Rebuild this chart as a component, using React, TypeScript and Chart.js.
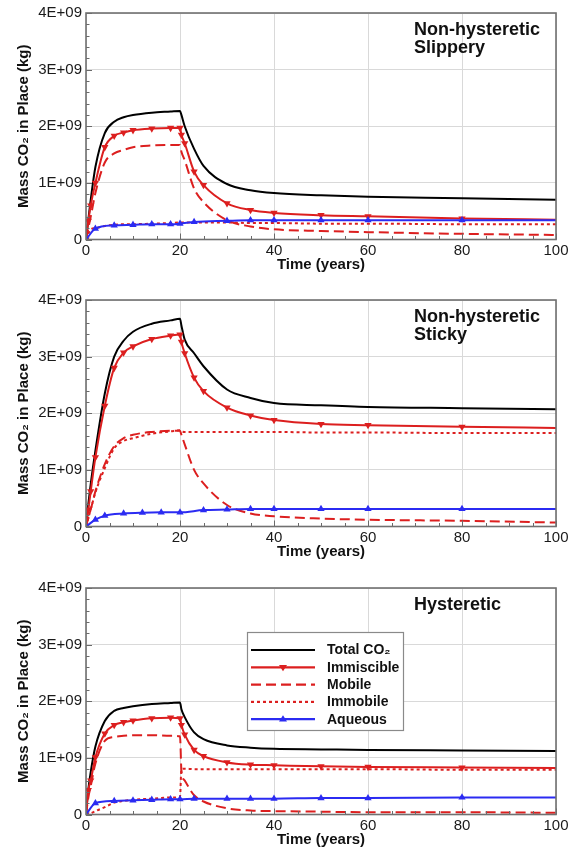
import React, { useEffect, useRef } from "react";
import { Chart, registerables } from "chart.js";

Chart.register(...registerables);

// ---------- DATA (values in units of 1E+09 kg) ----------
const T = [0, 0.5, 1, 2, 4, 6, 8, 10, 14, 18, 20, 20.3, 21, 23, 25, 30, 35, 40, 50, 60, 80, 100];

// Panel 1: Non-hysteretic, Slippery
const SLIP_TOTAL = [0, 0.35, 0.7, 1.28, 1.88, 2.08, 2.16, 2.2, 2.24, 2.26, 2.27, 2.2, 2.0, 1.6, 1.3, 0.98, 0.87, 0.82, 0.78, 0.755, 0.73, 0.7];
const SLIP_IMMISCIBLE = [0, 0.33, 0.6, 1.0, 1.63, 1.83, 1.89, 1.93, 1.96, 1.97, 1.97, 1.85, 1.7, 1.2, 0.96, 0.64, 0.52, 0.47, 0.43, 0.41, 0.37, 0.35];
const SLIP_MOBILE = [0, 0.2, 0.4, 0.82, 1.36, 1.52, 1.58, 1.63, 1.66, 1.67, 1.67, 1.55, 1.4, 0.9, 0.66, 0.34, 0.23, 0.18, 0.15, 0.13, 0.1, 0.08];
const SLIP_IMMOBILE = [0, 0.1, 0.18, 0.2, 0.24, 0.26, 0.27, 0.27, 0.28, 0.29, 0.3, 0.3, 0.3, 0.3, 0.3, 0.3, 0.29, 0.29, 0.28, 0.28, 0.27, 0.27];
const SLIP_AQ_T = [0, 2, 6, 10, 14, 18, 20, 23, 30, 35, 40, 50, 60, 80, 100];
const SLIP_AQUEOUS = [0, 0.19, 0.25, 0.26, 0.27, 0.27, 0.28, 0.31, 0.33, 0.34, 0.34, 0.34, 0.34, 0.34, 0.34];

// Panel 2: Non-hysteretic, Sticky
const STICK_TOTAL = [0, 0.4, 0.75, 1.34, 2.35, 3.0, 3.28, 3.44, 3.58, 3.64, 3.67, 3.55, 3.3, 3.06, 2.83, 2.42, 2.27, 2.18, 2.14, 2.11, 2.09, 2.07];
const STICK_IMMISCIBLE = [0, 0.3, 0.62, 1.22, 2.13, 2.8, 3.07, 3.18, 3.31, 3.37, 3.39, 3.26, 3.06, 2.63, 2.39, 2.1, 1.96, 1.88, 1.81, 1.79, 1.76, 1.74];
const STICK_MOBILE = [0, 0.15, 0.3, 0.62, 1.1, 1.42, 1.56, 1.62, 1.67, 1.69, 1.69, 1.62, 1.45, 1.0, 0.76, 0.38, 0.23, 0.18, 0.14, 0.12, 0.1, 0.07];
const STICK_IMMOBILE = [0, 0.15, 0.3, 0.6, 1.03, 1.38, 1.51, 1.56, 1.64, 1.68, 1.7, 1.68, 1.67, 1.67, 1.67, 1.67, 1.67, 1.67, 1.66, 1.66, 1.65, 1.65];
const STICK_AQ_T = [0, 2, 4, 8, 12, 16, 20, 25, 30, 35, 40, 50, 60, 80, 100];
const STICK_AQUEOUS = [0, 0.12, 0.19, 0.23, 0.245, 0.25, 0.25, 0.29, 0.3, 0.31, 0.31, 0.31, 0.31, 0.31, 0.31];

// Panel 3: Hysteretic
const HYST_TOTAL = [0, 0.45, 0.75, 1.2, 1.65, 1.83, 1.88, 1.91, 1.95, 1.97, 1.98, 1.86, 1.72, 1.45, 1.33, 1.22, 1.18, 1.16, 1.15, 1.14, 1.13, 1.12];
const HYST_IMMISCIBLE = [0, 0.43, 0.6, 1.01, 1.43, 1.58, 1.63, 1.66, 1.7, 1.71, 1.7, 1.58, 1.41, 1.14, 1.03, 0.92, 0.88, 0.87, 0.85, 0.84, 0.83, 0.82];
const HYST_MOBILE = [0, 0.3, 0.5, 0.9, 1.3, 1.37, 1.39, 1.4, 1.4, 1.39, 1.38, 0.78, 0.6, 0.34, 0.23, 0.11, 0.07, 0.06, 0.05, 0.04, 0.04, 0.03];
const HYST_IMMOBILE = [0, 0.0, 0.02, 0.06, 0.13, 0.21, 0.24, 0.26, 0.28, 0.3, 0.31, 0.8, 0.81, 0.8, 0.8, 0.8, 0.8, 0.8, 0.8, 0.8, 0.79, 0.79];
const HYST_AQ_T = [0, 2, 6, 10, 14, 18, 20, 23, 30, 35, 40, 50, 60, 80, 100];
const HYST_AQUEOUS = [0, 0.2, 0.24, 0.25, 0.26, 0.27, 0.27, 0.28, 0.28, 0.28, 0.28, 0.29, 0.29, 0.3, 0.3];

const SERIES_NAMES = ["Total CO\u2082", "Immiscible", "Mobile", "Immobile", "Aqueous"];
const X_TICKS = [0, 20, 40, 60, 80, 100];
const Y_TICKS_E9 = [0, 1, 2, 3, 4];
const X_TITLE = "Time (years)";
const Y_TITLE = "Mass CO\u2082 in Place (kg)";

// ---------- STYLE ----------
const FONT = "'Liberation Sans', Arial, Helvetica, sans-serif";
const RED = "#dc1f1f";
const BLUE = "#2b2bf2";
const BLACK = "#000000";
const SERIES_STYLE = [
  { color: BLACK, dash: [] as number[], marker: null as null | string, rotation: 0 },
  { color: RED, dash: [], marker: "triangle", rotation: 180 },
  { color: RED, dash: [10, 5], marker: null, rotation: 0 },
  { color: RED, dash: [3, 3], marker: null, rotation: 0 },
  { color: BLUE, dash: [], marker: "triangle", rotation: 0 },
];

const CANVAS_W = 576;
const CANVAS_H = 287;

function pts(xs: number[], ys: number[]) {
  return xs.map((x, i) => ({ x, y: ys[i] * 1e9 }));
}

function drawTriangle(ctx: CanvasRenderingContext2D, x: number, y: number, r: number, down: boolean) {
  ctx.beginPath();
  if (down) {
    ctx.moveTo(x - r, y - r * 0.6);
    ctx.lineTo(x + r, y - r * 0.6);
    ctx.lineTo(x, y + r);
  } else {
    ctx.moveTo(x - r, y + r * 0.6);
    ctx.lineTo(x + r, y + r * 0.6);
    ctx.lineTo(x, y - r);
  }
  ctx.closePath();
  ctx.fill();
}

function makeFramePlugin(labelLines: string[], showLegend: boolean) {
  return {
    id: "frameAndDecor",
    afterDraw(chart: any) {
      const ctx: CanvasRenderingContext2D = chart.ctx;
      const a = chart.chartArea;
      const xs = chart.scales.x;
      const ys = chart.scales.y;
      ctx.save();
      // minor & major ticks (inward)
      ctx.strokeStyle = "#6a6a6a";
      ctx.lineWidth = 1;
      for (let t = 0; t <= 100; t += 5) {
        const px = Math.round(xs.getPixelForValue(t)) + 0.5;
        const len = t % 20 === 0 ? 6 : 3.5;
        ctx.beginPath();
        ctx.moveTo(px, a.bottom);
        ctx.lineTo(px, a.bottom - len);
        ctx.stroke();
      }
      for (let v = 0; v <= 40; v += 2) {
        const py = Math.round(ys.getPixelForValue(v * 1e8)) + 0.5;
        const len = v % 10 === 0 ? 6 : 3.5;
        ctx.beginPath();
        ctx.moveTo(a.left, py);
        ctx.lineTo(a.left + len, py);
        ctx.stroke();
      }
      // frame
      ctx.strokeStyle = "#707070";
      ctx.lineWidth = 1.6;
      ctx.strokeRect(a.left, a.top, a.right - a.left, a.bottom - a.top);

      // annotation label
      ctx.fillStyle = "#111";
      ctx.font = `bold 18px ${FONT}`;
      ctx.textAlign = "left";
      ctx.textBaseline = "alphabetic";
      labelLines.forEach((line, i) => {
        ctx.fillText(line, a.left + 328, a.top + 22 + i * 18);
      });

      if (showLegend) {
        const bx = a.left + 161;
        const by = a.top + 44;
        const bw = 156;
        const bh = 98;
        ctx.fillStyle = "#ffffff";
        ctx.fillRect(bx, by, bw, bh);
        ctx.strokeStyle = "#8a8a8a";
        ctx.lineWidth = 1.2;
        ctx.strokeRect(bx + 0.5, by + 0.5, bw, bh);
        SERIES_NAMES.forEach((name, i) => {
          const st = SERIES_STYLE[i];
          const y = by + 18 + i * 17.3;
          ctx.strokeStyle = st.color;
          ctx.lineWidth = 2.2;
          ctx.setLineDash(st.dash);
          ctx.beginPath();
          ctx.moveTo(bx + 4, y);
          ctx.lineTo(bx + 68, y);
          ctx.stroke();
          ctx.setLineDash([]);
          if (st.marker) {
            ctx.fillStyle = st.color;
            drawTriangle(ctx, bx + 36, y, 4, st.rotation === 180);
          }
          ctx.fillStyle = "#111";
          ctx.font = `bold 14px ${FONT}`;
          ctx.textBaseline = "middle";
          ctx.fillText(name, bx + 80, y + 0.5);
        });
      }
      ctx.restore();
    },
  };
}

type PanelProps = {
  top: number;
  total: number[];
  immiscible: number[];
  mobile: number[];
  immobile: number[];
  aqT: number[];
  aqueous: number[];
  labelLines: string[];
  legend: boolean;
};

function Panel(props: PanelProps) {
  const ref = useRef<HTMLCanvasElement | null>(null);
  useEffect(() => {
    if (!ref.current) return;
    const markerRadius = (c: any) => (c.raw && c.raw.x >= 100 ? 0 : 4.2);
    const mk = (i: number, data: any[]) => {
      const st = SERIES_STYLE[i];
      return {
        label: SERIES_NAMES[i],
        data,
        borderColor: st.color,
        backgroundColor: st.color,
        borderWidth: 2,
        borderDash: st.dash,
        pointStyle: st.marker || "circle",
        rotation: st.rotation,
        pointRadius: st.marker ? markerRadius : 0,
        pointBorderWidth: 0,
        pointBackgroundColor: st.color,
        cubicInterpolationMode: "monotone" as const,
        fill: false,
      };
    };
    const datasets = [
      mk(4, pts(props.aqT, props.aqueous)),
      mk(3, pts(T, props.immobile)),
      mk(2, pts(T, props.mobile)),
      mk(1, pts(T, props.immiscible)),
      mk(0, pts(T, props.total)),
    ];
    const tickFont = { family: FONT, size: 15 };
    const chart = new Chart(ref.current, {
      type: "line",
      data: { datasets },
      options: {
        animation: false,
        responsive: false,
        devicePixelRatio: 1,
        layout: { padding: { top: 10, right: 20, left: 0, bottom: 0 } },
        plugins: { legend: { display: false }, tooltip: { enabled: false } },
        scales: {
          x: {
            type: "linear",
            min: 0,
            max: 100,
            afterFit: (s: any) => {
              s.height = 47.5;
            },
            afterBuildTicks: (s: any) => {
              s.ticks = X_TICKS.map((v) => ({ value: v }));
            },
            ticks: { font: tickFont, color: "#1a1a1a", padding: 2, maxRotation: 0 },
            grid: { color: "#d9d9d9", lineWidth: 1, drawTicks: false },
            border: { display: false },
            title: {
              display: true,
              text: X_TITLE,
              font: { family: FONT, size: 15, weight: "bold" },
              color: "#111",
              padding: { top: 0, bottom: 13 },
            },
          },
          y: {
            type: "linear",
            min: 0,
            max: 4e9,
            afterFit: (s: any) => {
              s.width = 86;
            },
            afterBuildTicks: (s: any) => {
              s.ticks = Y_TICKS_E9.map((v) => ({ value: v * 1e9 }));
            },
            ticks: {
              font: tickFont,
              color: "#1a1a1a",
              padding: 4,
              callback: (v: any) => (Number(v) === 0 ? "0" : `${Math.round(Number(v) / 1e9)}E+09`),
            },
            grid: { color: "#d9d9d9", lineWidth: 1, drawTicks: false },
            border: { display: false },
            title: {
              display: true,
              text: Y_TITLE,
              font: { family: FONT, size: 15, weight: "bold" },
              color: "#111",
              padding: { top: 15, bottom: 0 },
            },
          },
        },
      },
      plugins: [makeFramePlugin(props.labelLines, props.legend)],
    } as any);
    return () => chart.destroy();
  }, []);
  return (
    <canvas
      ref={ref}
      width={CANVAS_W}
      height={CANVAS_H}
      style={{ position: "absolute", left: 0, top: props.top, width: CANVAS_W, height: CANVAS_H, display: "block" }}
    />
  );
}

export default function App() {
  return (
    <div style={{ position: "absolute", left: 0, top: 0, width: 576, height: 849, background: "#fff" }}>
      <Panel
        top={0}
        total={SLIP_TOTAL}
        immiscible={SLIP_IMMISCIBLE}
        mobile={SLIP_MOBILE}
        immobile={SLIP_IMMOBILE}
        aqT={SLIP_AQ_T}
        aqueous={SLIP_AQUEOUS}
        labelLines={["Non-hysteretic", "Slippery"]}
        legend={false}
      />
      <Panel
        top={287}
        total={STICK_TOTAL}
        immiscible={STICK_IMMISCIBLE}
        mobile={STICK_MOBILE}
        immobile={STICK_IMMOBILE}
        aqT={STICK_AQ_T}
        aqueous={STICK_AQUEOUS}
        labelLines={["Non-hysteretic", "Sticky"]}
        legend={false}
      />
      <Panel
        top={575}
        total={HYST_TOTAL}
        immiscible={HYST_IMMISCIBLE}
        mobile={HYST_MOBILE}
        immobile={HYST_IMMOBILE}
        aqT={HYST_AQ_T}
        aqueous={HYST_AQUEOUS}
        labelLines={["Hysteretic"]}
        legend={true}
      />
    </div>
  );
}
